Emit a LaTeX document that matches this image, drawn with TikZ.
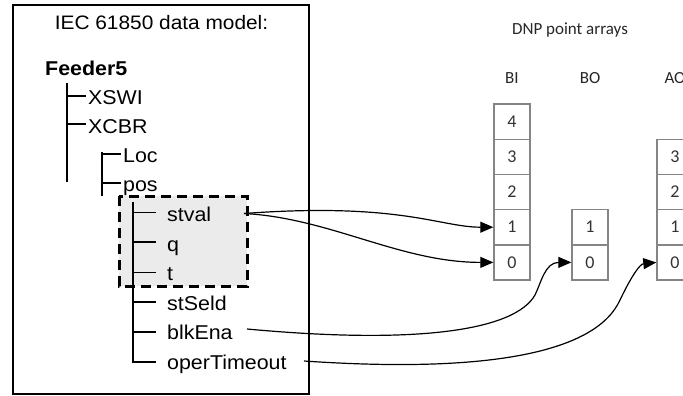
\documentclass[tikz,border=0pt]{standalone}
\usepackage{fontspec}
\setmainfont{Liberation Sans}[FakeStretch=1.07]
\newfontfamily\dnpfont{Carlito}
\usetikzlibrary{arrows.meta}
\definecolor{cellgray}{HTML}{858585}
\definecolor{boxfill}{HTML}{EBEBEB}
\tikzset{
  treetext/.style={anchor=base west, inner sep=0pt, font=\fontsize{20}{21}\selectfont},
  treeline/.style={line width=1.9pt},
  cellbox/.style={draw=cellgray, line width=1.4pt, minimum width=36pt, minimum height=35.2pt, inner sep=0pt, font=\dnpfont\fontsize{18}{19}\selectfont, text=black!80},
  dnplabel/.style={anchor=base, inner sep=0pt, font=\dnpfont\fontsize{17}{18}\selectfont, text=black!85},
  link/.style={line width=1.2pt, -{Triangle[length=13pt,width=11pt]}},
}
\begin{document}
\begin{tikzpicture}[x=1pt,y=-1pt]
\useasboundingbox (0,0) rectangle (683,396);
% outer frame
\draw[line width=2.4pt] (13,5) rectangle (309,394);
% dashed highlight
\draw[fill=boxfill, line width=3pt, dash pattern=on 10pt off 6pt] (119,196) rectangle (247,286);
% title
\node[anchor=base, inner sep=0pt, font=\fontsize{19.5}{20}\selectfont] (title) at (161.5,30) {IEC 61850 data model:};
% tree texts
\node[treetext, font=\bfseries\fontsize{20}{21}\selectfont] (feeder) at (45,75.5) {Feeder5};
\node[treetext] (xswi) at (88,104.5) {XSWI};
\node[treetext] (xcbr) at (88,133.5) {XCBR};
\node[treetext] (loc) at (123,162.5) {Loc};
\node[treetext] (pos) at (123,191.5) {pos};
\node[treetext] (stval) at (167,221.5) {stval};
\node[treetext] (q) at (167,251) {q};
\node[treetext] (t) at (167,280.5) {t};
\node[treetext] (stseld) at (167,310) {stSeld};
\node[treetext] (blkena) at (167,339.5) {blkEna};
\node[treetext] (opertimeout) at (167,369) {operTimeout};
% tree lines
\draw[treeline] (67,83) -- (67,182);
\draw[treeline] (67,96) -- (86,96);
\draw[treeline] (67,124) -- (86,124);
\draw[treeline] (102,152) -- (102,196);
\draw[treeline] (102,154) -- (121,154);
\draw[treeline] (102,183) -- (121,183);
\draw[treeline] (133.3,202) -- (133.3,362) -- (156,362);
\foreach \yy in {212.5,242,272.5,302,332} \draw[treeline] (133.3,\yy) -- (156,\yy);
% DNP side
\node[dnplabel] (dnptitle) at (570,34.3) {DNP point arrays};
\node[dnplabel] (bilabel) at (512,83.5) {BI};
\node[dnplabel] (bolabel) at (590,83.5) {BO};
\node[dnplabel] (aolabel) at (675,83.5) {AO};
% BI cells
\node[cellbox] (bi4) at (512,121.6) {4};
\node[cellbox] (bi3) at (512,156.8) {3};
\node[cellbox] (bi2) at (512,192.0) {2};
\node[cellbox] (bi1) at (512,227.2) {1};
\node[cellbox] (bi0) at (512,262.4) {0};
% BO cells
\node[cellbox] (bo1) at (590,227.2) {1};
\node[cellbox] (bo0) at (590,262.4) {0};
% AO cells
\node[cellbox] (ao3) at (675,156.8) {3};
\node[cellbox] (ao2) at (675,192.0) {2};
\node[cellbox] (ao1) at (675,227.2) {1};
\node[cellbox] (ao0) at (675,262.4) {0};
% connector ports
\coordinate (stvalport) at (244,213.5);
\coordinate (blkport) at (247,329);
\coordinate (operport) at (304,361);
\coordinate (cmid) at (535,295);
\coordinate (dmid) at (620,300);
% connectors
\draw[link] (stvalport) .. controls (400,202) and (440,227.2) .. (bi1.west);
\draw[link] (stvalport) .. controls (330,218) and (400,262.4) .. (bi0.west);
\draw[link] (blkport) .. controls (420,345) and (515,330) .. (cmid) .. controls (541,283) and (545,262.4) .. (bo0.west);
\draw[link] (operport) .. controls (480,373) and (595,355) .. (dmid) .. controls (632,275) and (640,264) .. (ao0.west);
\end{tikzpicture}
\end{document}
